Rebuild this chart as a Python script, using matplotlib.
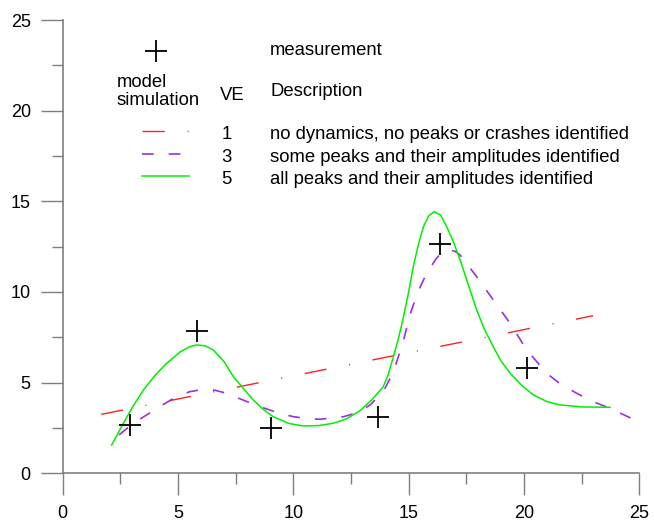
import numpy as np
from matplotlib import pyplot as plt
from matplotlib.ticker import MultipleLocator

plt.rcParams['font.family'] = ['Liberation Sans', 'DejaVu Sans']

# measured points
meas_x = [2.92, 5.83, 9.03, 13.68, 16.36, 20.13]
meas_y = [2.66, 7.85, 2.50, 3.11, 12.65, 5.82]

# VE 1 model - straight trend
ve1_x = [1.67, 23.0]
ve1_y = [3.25, 8.69]

# VE 3 model
ve3_x = [2.44, 3.0, 3.64, 4.3, 4.94, 5.5, 6.10, 6.6, 7.11, 7.8, 8.56, 9.3, 10.0, 10.6,
         11.16, 12.17, 12.8, 13.33, 13.9, 14.34, 14.75, 15.07, 15.4, 15.78, 16.2, 16.45,
         16.72, 17.0, 17.23, 17.95, 18.67, 19.40, 20.12, 20.99, 21.6, 22.29, 23.0, 23.73,
         24.74]
ve3_y = [2.11, 2.7, 3.22, 3.75, 4.23, 4.5, 4.63, 4.58, 4.41, 4.05, 3.67, 3.35, 3.12, 3.02,
         2.98, 3.12, 3.35, 3.77, 4.5, 5.6, 7.2, 8.8, 10.0, 11.03, 11.85, 12.2,
         12.32, 12.25, 12.04, 10.84, 9.56, 8.27, 6.80, 5.51, 4.9, 4.41, 3.95, 3.58,
         2.98]

# VE 5 model
ve5_x = [2.12, 2.63, 3.05, 3.50, 4.0, 4.51, 5.1, 5.5, 5.81, 6.2, 6.53, 7.0, 7.40, 7.85,
         8.27, 8.7, 9.13, 9.8, 10.43, 11.1, 11.73, 12.3, 12.89, 13.4, 13.90, 14.1, 14.34,
         14.55, 14.77, 15.0, 15.20, 15.42, 15.64, 15.87, 16.10, 16.38, 16.65, 16.93, 17.23,
         17.6, 17.95, 18.3, 18.67, 19.0, 19.40, 19.9, 20.41, 21.0, 21.57, 22.5, 23.73]
ve5_y = [1.56, 2.76, 3.7, 4.59, 5.4, 6.07, 6.7, 6.98, 7.08, 7.02, 6.80, 6.15, 5.33, 4.65,
         4.04, 3.52, 3.12, 2.75, 2.61, 2.63, 2.76, 3.0, 3.45, 4.05, 4.78, 5.4, 6.43,
         7.4, 8.6, 10.0, 11.40, 12.6, 13.60, 14.2, 14.43, 14.25, 13.60, 12.8, 11.77,
         10.35, 9.01, 7.9, 6.98, 6.2, 5.52, 4.85, 4.32, 3.95, 3.77, 3.66, 3.64]

ve_labels = ['1', '3', '5']
descriptions = ['no dynamics, no peaks or crashes identified',
                'some peaks and their amplitudes identified',
                'all peaks and their amplitudes identified']

red = '#ff2020'
purple = '#9a30e0'
green = '#00f000'
grey = '#7f7f7f'

red_style = (0, (16, 16.5, 0.8, 16.5))
purple_style = (0, (7, 9))

fig = plt.figure(figsize=(6.54, 5.21), dpi=100)
ax = fig.add_axes([0.0959, 0.0916, 0.8816, 0.87])

ax.plot(ve1_x, ve1_y, color=red, lw=1, linestyle=red_style)
ax.plot(ve3_x, ve3_y, color=purple, lw=1.2, linestyle=purple_style)
ax.plot(ve5_x, ve5_y, color=green, lw=1.1)
ax.plot(meas_x, meas_y, '+', color='black', ms=16, mew=1.3)

ax.set_xlim(0, 25)
ax.set_ylim(0, 25)
ax.xaxis.set_major_locator(MultipleLocator(5))
ax.yaxis.set_major_locator(MultipleLocator(5))
ax.xaxis.set_minor_locator(MultipleLocator(2.5))
ax.yaxis.set_minor_locator(MultipleLocator(2.5))
ax.tick_params(which='major', direction='out', length=16, width=1, color=grey,
               labelsize=13, pad=7)
ax.tick_params(which='minor', direction='out', length=8, width=1, color=grey)
ax.spines.right.set_visible(False)
ax.spines.top.set_visible(False)
for s in ['left', 'bottom']:
    ax.spines[s].set_color(grey)
    ax.spines[s].set_linewidth(1.2)

# hand-made legend block
tr = ax.transAxes
fs = 13.3
ax.plot([0.162], [0.932], '+', color='black', ms=16, mew=1.3, transform=tr, clip_on=False)
ax.text(0.36, 0.932, 'measurement', transform=tr, fontsize=fs, va='center')
ax.text(0.094, 0.843, 'model\nsimulation', transform=tr, fontsize=fs, va='center',
        linespacing=1.1)
ax.text(0.273, 0.834, 'VE', transform=tr, fontsize=fs, va='center')
ax.text(0.36, 0.843, 'Description', transform=tr, fontsize=fs, va='center')

row_y = [0.747, 0.697, 0.648]
styles = [(red, red_style, 1), (purple, purple_style, 1.2), (green, '-', 1.1)]
for ry, lab, desc, (c, ls, lw) in zip(row_y, ve_labels, descriptions, styles):
    ax.plot([0.138, 0.219], [ry + 0.008, ry + 0.008], color=c, linestyle=ls, lw=lw,
            transform=tr, clip_on=False)
    ax.text(0.275, ry, lab, transform=tr, fontsize=fs, va='center')
    ax.text(0.36, ry, desc, transform=tr, fontsize=fs, va='center')

plt.savefig('out.png', dpi=100)
